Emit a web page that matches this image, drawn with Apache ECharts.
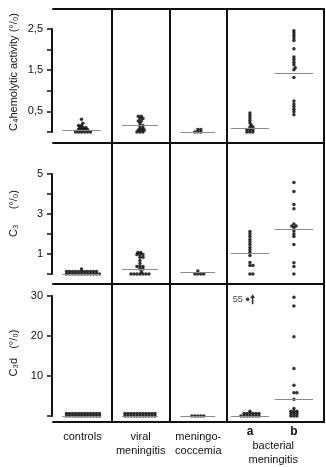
<!DOCTYPE html>
<html><head><meta charset="utf-8">
<script src="https://cdn.jsdelivr.net/npm/echarts@6/dist/echarts.min.js"></script>
<style>html,body{margin:0;padding:0;background:#fff}#c{width:326px;height:467px}</style>
</head><body><div id="c"></div>
<script>
// ---- categories ----
const groupLabels = ['controls', 'viral\nmeningitis', 'meningo-\ncoccemia'];
const subLabels = ['a', 'b'];
const bacterialLabel = 'bacterial\nmeningitis';
const groupPos = [0.51, 1.52, 2.52, 3.42, 4.18];   // x positions of the five columns
const dividerPos = [1.02, 2.02, 3.02];
const bacterialPos = 3.82;

// ---- panel 1: C4 hemolytic activity (%) ----
const c4Controls = [0.31, 0.21, 0.16, 0.16, 0.11, 0.11, 0.11, 0.06, 0.06, 0.06, 0.06, 0, 0, 0, 0, 0, 0];
const c4Viral = [0.38, 0.38, 0.33, 0.33, 0.27, 0.27, 0.22, 0.16, 0.16, 0.1, 0.1, 0.05, 0.05, 0.05, 0, 0, 0];
const c4Menin = [0.06, 0.06, 0, 0, 0];
const c4BactA = [0.46, 0.40, 0.34, 0.28, 0.22, 0.17, 0.12, 0.12, 0.06, 0.06, 0.06, 0, 0, 0];
const c4BactB = [2.46, 2.40, 2.34, 2.28, 2.22, 2.02, 1.82, 1.76, 1.69, 1.63, 1.56, 1.51, 1.32, 0.75, 0.68, 0.62, 0.55, 0.49, 0.42];
const c4Medians = [0.05, 0.16, 0, 0.08, 1.43];
const c4TickLabels = [0.5, 1.5, 2.5];

// ---- panel 2: C3 (%) ----
const c3Controls = [0.25, 0.12, 0.12, 0.12, 0.12, 0.12, 0.12, 0.12, 0.12, 0.12, 0.12, 0.12, 0, 0, 0, 0, 0, 0, 0, 0, 0, 0, 0, 0];
const c3Viral = [1.08, 1.08, 0.97, 0.97, 0.97, 0.84, 0.84, 0.67, 0.52, 0.38, 0.38, 0.38, 0.25, 0.25, 0.1, 0, 0, 0, 0, 0, 0, 0];
const c3Menin = [0.15, 0, 0, 0, 0];
const c3BactA = [2.13, 2.0, 1.87, 1.73, 1.6, 1.47, 1.33, 1.2, 1.07, 0.93, 0.57, 0.42, 0.42, 0, 0];
const c3BactB = [4.57, 4.12, 3.47, 3.26, 2.5, 2.4, 2.4, 2.32, 2.15, 2.0, 1.87, 1.47, 0.56, 0.38, 0];
const c3Medians = [0, 0.25, 0.07, 1.03, 2.23];
const c3TickLabels = [1, 3, 5];

// ---- panel 3: C3d (%) ----
const c3dControls = [0.6, 0.6, 0.6, 0.6, 0.6, 0.6, 0.6, 0.6, 0.6, 0.6, 0.6, 0.6, 0, 0, 0, 0, 0, 0, 0, 0, 0, 0, 0, 0];
const c3dViral = [0.6, 0.6, 0.6, 0.6, 0.6, 0.6, 0.6, 0.6, 0.6, 0.6, 0.6, 0, 0, 0, 0, 0, 0, 0, 0, 0, 0, 0];
const c3dMenin = [0, 0, 0, 0, 0];
const c3dBactA = [1.2, 0.6, 0.6, 0.6, 0.6, 0.6, 0.6, 0, 0, 0, 0, 0, 0, 0];
const c3dBactAOffScale = [55];
const c3dBactB = [29.7, 27.5, 19.8, 11.9, 7.7, 5.8, 5.8, 4.2, 1.9, 1.2, 1.2, 1.2, 0.6, 0.6, 0.6, 0, 0, 0];
const c3dMedians = [0, 0, 0, 0, 4.2];
const c3dTickLabels = [10, 20, 30];
const offScaleCap = 29.2;

// ---- layout ----
const FONT = 'Liberation Sans';
const INK = '#111111';
const LEFT = 52, RIGHT = 2, XMAX = 4.7, WIDTH = 326 - LEFT - RIGHT;
const frames = [{top: 9, height: 134}, {top: 143, height: 141}, {top: 284, height: 142}];
const dataGrids = [{top: 29, height: 103}, {top: 174, height: 100}, {top: 296, height: 120}];
const panels = [
  {name: 'C\u2084hemolytic activity (\u00b0/\u2080)', groups: [c4Controls, c4Viral, c4Menin, c4BactA, c4BactB], med: c4Medians, max: 2.5, interval: 0.5, ticks: c4TickLabels, namePad: [0, 0, 0, 8]},
  {name: 'C\u2083     (\u00b0/\u2080)', groups: [c3Controls, c3Viral, c3Menin, c3BactA, c3BactB], med: c3Medians, max: 5, interval: 1, ticks: c3TickLabels, namePad: [0, 0, 0, 0]},
  {name: 'C\u2083d   (\u00b0/\u2080)', groups: [c3dControls, c3dViral, c3dMenin, c3dBactA, c3dBactB], med: c3dMedians, max: 30, interval: 10, ticks: c3dTickLabels, namePad: [0, 0, 0, 0]}
];

// beeswarm: spread equal-ish values sideways so dots don't overlap
function swarm(values, center, pxPerY, pxPerX) {
  const DX = 3.0, DY = 2.3;
  const placed = [], out = [];
  const order = values.map((v, i) => i).sort((a, b) => values[a] - values[b]);
  const req = d => DX * Math.sqrt(Math.max(0, 1 - (d / DY) * (d / DY)));
  for (const i of order) {
    const y = values[i] * pxPerY;
    const cands = [0];
    for (const p of placed) {
      const d = Math.abs(p.y - y);
      if (d < DY) { const r = req(d); cands.push(p.x + r, p.x - r); }
    }
    cands.sort((a, b) => (Math.abs(a) - Math.abs(b)) || (b - a));
    let best = 0;
    for (const c of cands) {
      if (placed.every(p => { const d = Math.abs(p.y - y); return d >= DY || Math.abs(p.x - c) >= req(d) - 1e-6; })) { best = c; break; }
    }
    placed.push({x: best, y});
    out.push([center + best / pxPerX, values[i]]);
  }
  return out;
}

const pxPerX = WIDTH / XMAX;
const grid = [], xAxis = [], yAxis = [], series = [];
const lineStyle = {color: INK, width: 2};
const axLine = {show: true, onZero: false, lineStyle};
const noLine = {show: false, onZero: false};

frames.forEach(f => grid.push({left: LEFT, right: RIGHT, top: f.top, height: f.height}));
dataGrids.forEach(g => grid.push({left: LEFT, right: RIGHT, top: g.top, height: g.height}));

// frame x axes (bottom lines) 0..2
frames.forEach((f, i) => {
  const ax = {type: 'value', gridIndex: i, min: 0, max: XMAX, position: 'bottom',
    axisLine: axLine, axisTick: {show: false}, splitLine: {show: false}, axisLabel: {show: false}};
  if (i === 2) {
    ax.axisLabel = {show: true, customValues: groupPos.slice(0, 3), margin: 8, fontFamily: FONT, fontSize: 11, lineHeight: 14, color: INK,
      formatter: v => { const k = groupPos.findIndex(p => Math.abs(p - v) < 1e-6); return k >= 0 ? groupLabels[k] : ''; }};
  }
  xAxis.push(ax);
});
// top line 3
xAxis.push({type: 'value', gridIndex: 0, min: 0, max: XMAX, position: 'top', axisLine: axLine, axisTick: {show: false}, splitLine: {show: false}, axisLabel: {show: false}});
// data x axes 4..6
dataGrids.forEach((g, i) => xAxis.push({type: 'value', gridIndex: 3 + i, min: 0, max: XMAX, show: false, axisLine: noLine}));
// a / b labels 7
xAxis.push({type: 'value', gridIndex: 2, min: 0, max: XMAX, position: 'bottom', axisLine: noLine, axisTick: {show: false}, splitLine: {show: false},
  axisLabel: {show: true, customValues: groupPos.slice(3), margin: 4, fontFamily: FONT, fontSize: 12, fontWeight: 'bold', color: INK,
    formatter: v => { const k = groupPos.findIndex(p => Math.abs(p - v) < 1e-6); return k >= 3 ? subLabels[k - 3] : ''; }}});
// bacterial label 8
xAxis.push({type: 'value', gridIndex: 2, min: 0, max: XMAX, position: 'bottom', axisLine: noLine, axisTick: {show: false}, splitLine: {show: false},
  axisLabel: {show: true, customValues: [bacterialPos], margin: 17, fontFamily: FONT, fontSize: 11, lineHeight: 14, color: INK, formatter: () => bacterialLabel}});

// frame right y axes 0..2
frames.forEach((f, i) => {
  yAxis.push({type: 'value', gridIndex: i, min: 0, max: 1, position: 'right', axisLine: axLine, axisTick: {show: false}, splitLine: {show: false}, axisLabel: {show: false}});
});
// frame left y axes with titles 3..5
panels.forEach((p, i) => {
  yAxis.push({type: 'value', gridIndex: i, min: 0, max: 1, position: 'left', axisLine: noLine, axisTick: {show: false}, splitLine: {show: false}, axisLabel: {show: false},
    name: p.name, nameLocation: 'middle', nameGap: 34, nameRotate: 90,
    nameTextStyle: {fontFamily: FONT, fontSize: 11, color: INK, padding: p.namePad}});
});
// data y axes 6..8
panels.forEach((p, i) => {
  yAxis.push({type: 'value', gridIndex: 3 + i, min: 0, max: p.max, interval: p.interval, position: 'left',
    axisLine: axLine, axisTick: {show: true, inside: false, length: 5, lineStyle: {color: INK, width: 1.5}},
    splitLine: {show: false},
    axisLabel: {show: true, margin: 9, fontFamily: FONT, fontSize: 11, color: INK,
      formatter: v => p.ticks.some(t => Math.abs(t - v) < 1e-6) ? String(v).replace('.', ',') : ''}});
});

// dividers
frames.forEach((f, i) => {
  series.push({type: 'line', xAxisIndex: i, yAxisIndex: i, data: [], silent: true,
    markLine: {silent: true, symbol: ['none', 'none'], label: {show: false}, animation: false,
      lineStyle: {color: INK, width: 2, type: 'solid'}, data: dividerPos.map(v => ({xAxis: v}))}});
});

// data dots + medians
panels.forEach((p, i) => {
  const pxPerY = dataGrids[i].height / p.max;
  let pts = [];
  p.groups.forEach((vals, g) => { pts = pts.concat(swarm(vals, groupPos[g], pxPerY, pxPerX)); });
  const hw = [0.33, 0.31, 0.30, 0.33, 0.33];
  series.push({type: 'scatter', xAxisIndex: 4 + i, yAxisIndex: 6 + i, data: pts, symbol: 'circle', symbolSize: 3.5, clip: false,
    itemStyle: {color: '#000'}, silent: true, z: 3,
    markLine: {silent: true, symbol: ['none', 'none'], label: {show: false}, animation: false,
      lineStyle: {color: '#8a8a8a', width: 1, type: 'solid'},
      data: p.med.map((m, g) => [{coord: [groupPos[g] - hw[g], m]}, {coord: [groupPos[g] + hw[g], m]}])}});
});

// off-scale value in group a (C3d)
series.push({type: 'scatter', xAxisIndex: 6, yAxisIndex: 8, clip: false, silent: true, symbolSize: 3.5, itemStyle: {color: '#000'},
  data: c3dBactAOffScale.map(v => ({value: [groupPos[3] - 0.04, offScaleCap], raw: v})),
  label: {show: true, position: 'left', distance: 3, fontFamily: FONT, fontSize: 9, color: INK, formatter: d => String(d.data.raw)}});
series.push({type: 'scatter', xAxisIndex: 6, yAxisIndex: 8, clip: false, silent: true,
  symbol: 'path://M5,0 L10,6 L6.6,6 L6.6,16 L3.4,16 L3.4,6 L0,6 Z', symbolSize: [5, 10], symbolOffset: [5, 0], itemStyle: {color: '#000'},
  data: c3dBactAOffScale.map(v => [groupPos[3] - 0.04, offScaleCap])});

const chart = echarts.init(document.getElementById('c'), null, {renderer: 'canvas'});
chart.setOption({animation: false, backgroundColor: '#fff', grid, xAxis, yAxis, series});
</script></body></html>
